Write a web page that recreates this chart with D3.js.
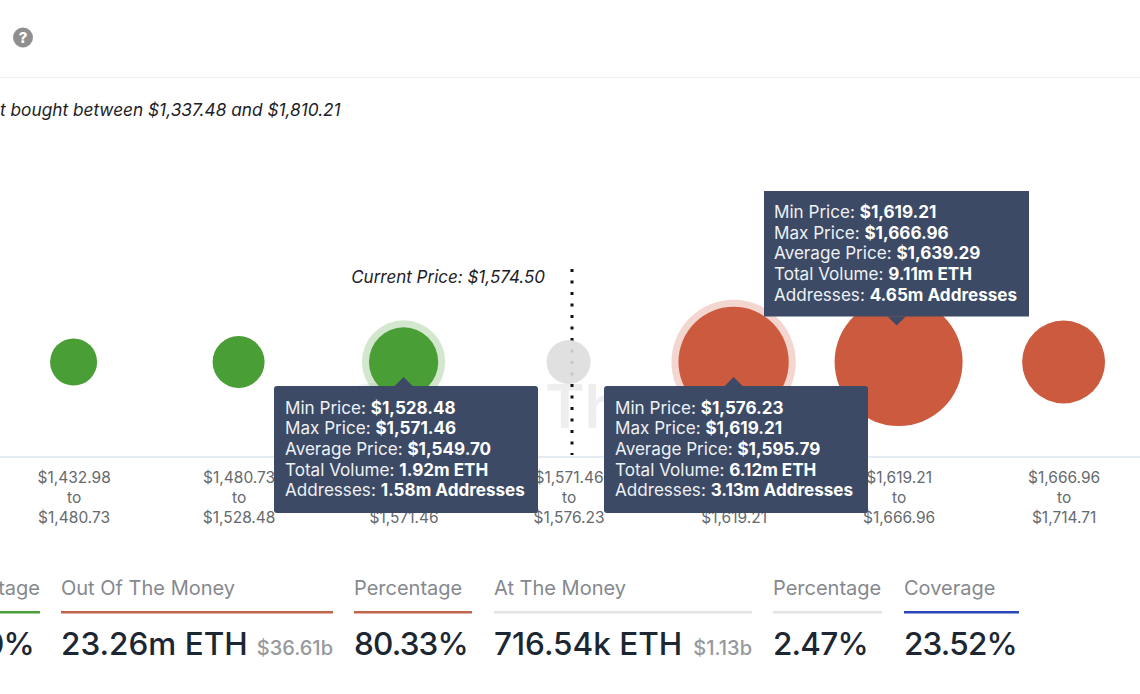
<!DOCTYPE html>
<html><head><meta charset="utf-8">
<script src="https://cdnjs.cloudflare.com/ajax/libs/d3/7.8.5/d3.min.js"></script>
<style>
html,body{margin:0;padding:0;background:#fff;overflow:hidden}
svg{display:block;font-family:Inter,"Noto Sans",sans-serif}
</style></head><body><svg id="c" width="1140" height="694"></svg>
<script>
const rangeLow = ["$1,432.98","$1,480.73","$1,528.48","$1,571.46","$1,576.23","$1,619.21","$1,666.96"];
const rangeHigh = ["$1,480.73","$1,528.48","$1,571.46","$1,576.23","$1,619.21","$1,666.96","$1,714.71"];
const volumes = [0.82,1.01,1.92,0.71654,6.12,9.11,2.96];
const states = ["in","in","in","at","out","out","out"];
const halo = [false,false,true,false,true,false,false];
const stateColors = {in:"#4a9e36",at:"#dddddd",out:"#cc5a3e"};
const tipLines = [
 {cat:2,box:"below",rows:[["Min Price: ","$1,528.48"],["Max Price: ","$1,571.46"],["Average Price: ","$1,549.70"],["Total Volume: ","1.92m ETH"],["Addresses: ","1.58m Addresses"]]},
 {cat:4,box:"below",rows:[["Min Price: ","$1,576.23"],["Max Price: ","$1,619.21"],["Average Price: ","$1,595.79"],["Total Volume: ","6.12m ETH"],["Addresses: ","3.13m Addresses"]]},
 {cat:5,box:"above",rows:[["Min Price: ","$1,619.21"],["Max Price: ","$1,666.96"],["Average Price: ","$1,639.29"],["Total Volume: ","9.11m ETH"],["Addresses: ","4.65m Addresses"]]}
];
const statLabels = ["tage","Out Of The Money","Percentage","At The Money","Percentage","Coverage"];
const statValues = ["0%","23.26m ETH","80.33%","716.54k ETH","2.47%","23.52%"];
const statSubs = ["","$36.61b","","$1.13b","",""];
const statRules = ["#4a9e36","#c0654a","#c0654a","#e1e3e5","#e1e3e5","#2b46b8"];
const statX0 = [-60,61,354,494,773,904];
const statX1 = [40,333,472,752,882,1019];
const subtitle = "t bought between $1,337.48 and $1,810.21";
const priceNote = "Current Price: $1,574.50";
const watermark = "Th";

const svg = d3.select("#c");
const W = 1140, cy = 362;
const x = d3.scalePoint().domain(d3.range(7)).range([73.6,1063.6]);
const r = d3.scalePow().exponent(0.3).domain([0.71654,9.11]).range([22,64]);

// header
svg.append("line").attr("x1",0).attr("x2",W).attr("y1",77.5).attr("y2",77.5).attr("stroke","#f0f0f0");
svg.append("circle").attr("cx",23).attr("cy",37.5).attr("r",10).attr("fill","#8f8f8f");
svg.append("text").attr("x",23).attr("y",43).attr("text-anchor","middle").attr("font-size",15).attr("font-weight",800).attr("fill","#fff").text("?");
svg.append("text").attr("x",0).attr("y",115.5).attr("font-size",17.25).attr("font-style","italic").attr("fill","#1d2126").text(subtitle);

// watermark
svg.append("circle").attr("cx",372).attr("cy",425).attr("r",42).attr("fill","#f1f1f1");
svg.append("text").attr("x",545).attr("y",428).attr("font-size",60).attr("font-weight",600).attr("fill","#eeeeee").text(watermark);

// axis
const axis = d3.axisBottom(x).tickSize(0).tickPadding(0).tickFormat(()=>"");
const ax = svg.append("g").attr("transform","translate(0,457)").call(axis);
ax.select(".domain").attr("d",`M0,0H${W}`).attr("stroke","#dce4ef").attr("stroke-width",1.5);
ax.selectAll(".tick text").each(function(d){
  const t = d3.select(this).text(null).attr("fill","#666a6e").attr("font-size",15.5).attr("y",0).attr("dy",null).attr("font-family","Inter");
  [rangeLow[d],"to",rangeHigh[d]].forEach((s,i)=>t.append("tspan").attr("x",0).attr("y",26+i*20).text(s));
});

// current price (drawn under the translucent at-the-money bubble)
svg.append("line").attr("x1",572).attr("x2",572).attr("y1",269).attr("y2",455)
  .attr("stroke","#111").attr("stroke-width",3).attr("stroke-dasharray","3 8.5");
svg.append("text").attr("x",545).attr("y",282.5).attr("text-anchor","end").attr("font-size",17).attr("font-style","italic").attr("fill","#1d2126").text(priceNote);

// bubbles
const idx = d3.range(volumes.length);
svg.append("g").selectAll("circle").data(idx.filter(i=>halo[i])).join("circle")
  .attr("cx",i=>x(i)).attr("cy",cy).attr("r",i=>r(volumes[i])+7)
  .attr("fill",i=>stateColors[states[i]]).attr("opacity",0.25);
svg.append("g").selectAll("circle").data(idx).join("circle")
  .attr("cx",i=>x(i)).attr("cy",cy).attr("r",i=>r(volumes[i]))
  .attr("fill",i=>stateColors[states[i]]).attr("opacity",i=>states[i]==="at"?0.9:1);

// tooltips
tipLines.forEach(t=>{
  const cx = x(t.cat);
  const below = t.box==="below";
  const left = below ? cx-129.6 : cx-134.6;
  const top = below ? 386 : 191;
  const tipH = below ? 127 : 125.5;
  const g = svg.append("g");
  g.append("rect").attr("x",left).attr("y",top).attr("width",below?264:265).attr("height",tipH).attr("rx",below?3:0).attr("fill","#3c4a65");
  const tipX = below ? cx : cx-2;
  const path = below ? `M${tipX-9},${top}L${tipX},${top-9}L${tipX+9},${top}Z` : `M${tipX-9},${top+tipH}L${tipX},${top+tipH+9}L${tipX+9},${top+tipH}Z`;
  g.append("path").attr("d",path).attr("fill","#3c4a65");
  t.rows.forEach((row,i)=>{
    const tx = g.append("text").attr("x",left+(below?11:10)).attr("y",(below?413.5:218)+i*20.7).attr("font-size",17.1).attr("fill","#eef1f5");
    tx.append("tspan").text(row[0]);
    tx.append("tspan").attr("font-weight",700).attr("fill","#fff").text(row[1]);
  });
});

// stats
statLabels.forEach((s,i)=>{
  const cut = i===0, pct = statValues[i].endsWith("%");
  svg.append("text").attr("x",cut?40:statX0[i]).attr("text-anchor",cut?"end":"start").attr("y",595).attr("font-size",20).attr("fill","#85898e").text(s);
  svg.append("rect").attr("x",statX0[i]).attr("y",611).attr("width",statX1[i]-statX0[i]).attr("height",2.5).attr("fill",statRules[i]);
  svg.append("text").attr("x",cut?34:statX0[i]).attr("text-anchor",cut?"end":"start").attr("y",655)
    .attr("font-size",31.5).attr("font-weight",500).attr("letter-spacing",pct?-0.8:0).attr("fill","#1c2733").text(statValues[i]);
  if(statSubs[i]) svg.append("text").attr("x",statX1[i]).attr("text-anchor","end").attr("y",655).attr("font-size",20).attr("font-weight",500).attr("fill","#96999d").text(statSubs[i]);
});
</script></body></html>
